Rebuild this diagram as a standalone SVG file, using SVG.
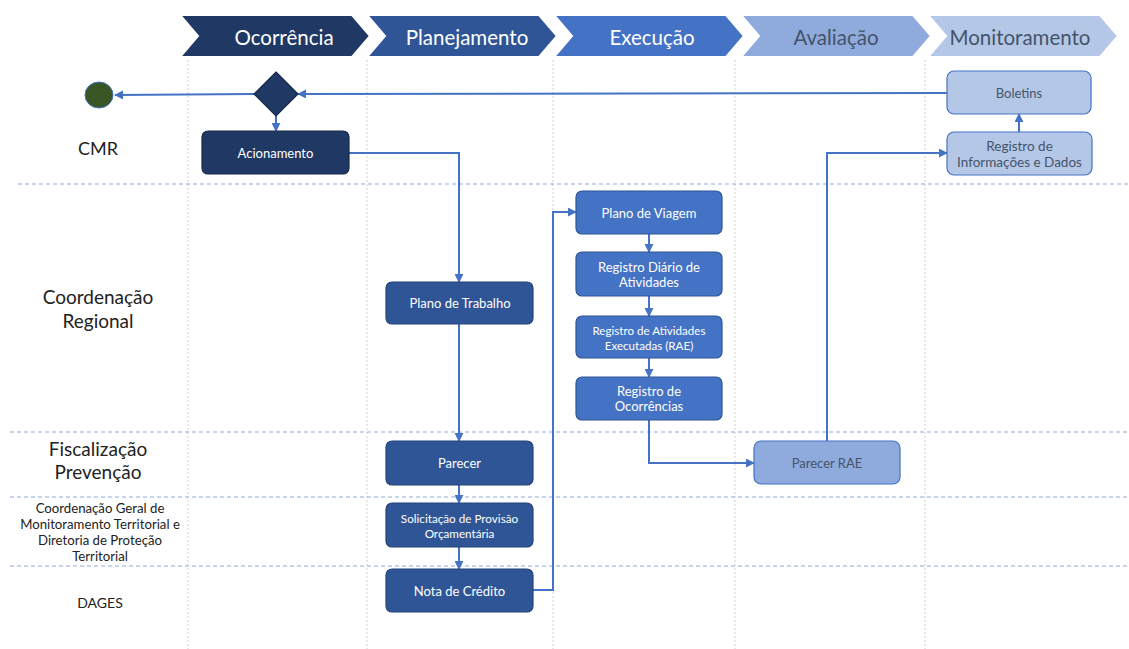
<svg xmlns="http://www.w3.org/2000/svg" width="1129" height="649" viewBox="0 0 1129 649">
  <style>
    .phase { stroke: #ffffff; stroke-width: 2; }
    .ph-t { font-family: Lato, "Open Sans", sans-serif; font-size: 20.5px; text-anchor: middle; dominant-baseline: central; }
    .lane { font-family: Lato, "Open Sans", sans-serif; font-size: 19px; fill: #222; text-anchor: middle; }
    .lane-s { font-family: Lato, "Open Sans", sans-serif; font-size: 13.2px; fill: #222; text-anchor: middle; }
    .vgrid { stroke: #d0d0d0; stroke-width: 1; stroke-dasharray: 2 2; }
    .hgrid { stroke: #8faadc; stroke-width: 1; stroke-dasharray: 4 3; }
    .box-d { fill: #1f3864; stroke: #17294a; stroke-width: 1.2; }
    .box-m { fill: #2f5597; stroke: #244377; stroke-width: 1.2; }
    .box-b { fill: #4472c4; stroke: #2f5597; stroke-width: 1.2; }
    .box-l { fill: #8faadc; stroke: #4472c4; stroke-width: 1.2; }
    .box-p { fill: #b4c7e7; stroke: #4472c4; stroke-width: 1.2; }
    .nt { font-family: Lato, "Open Sans", sans-serif; font-size: 13px; fill: #ffffff; text-anchor: middle; dominant-baseline: central; }
    .nt-g { font-family: Lato, "Open Sans", sans-serif; font-size: 13px; fill: #44546a; text-anchor: middle; dominant-baseline: central; }
    .conn { fill: none; stroke: #4472c4; stroke-width: 2; marker-end: url(#arr); }
  </style>
  <defs>
    <marker id="arr" viewBox="0 0 10 10" refX="9" refY="5" markerWidth="4.5" markerHeight="4.5" orient="auto" markerUnits="strokeWidth">
      <path d="M0,0 L10,5 L0,10 z" fill="#4472c4"/>
    </marker>
  </defs>

  <rect width="1129" height="649" fill="#ffffff"/>

  <!-- phase chevrons -->
  <g id="phases">
    <polygon class="phase" fill="#1f3864" points="180,15 352,15 370,36 352,57 180,57 198,36"/>
    <polygon class="phase" fill="#2f5597" points="367,15 539,15 557,36 539,57 367,57 385,36"/>
    <polygon class="phase" fill="#4472c4" points="554,15 726,15 744,36 726,57 554,57 572,36"/>
    <polygon class="phase" fill="#8faadc" points="741,15 913,15 931,36 913,57 741,57 759,36"/>
    <polygon class="phase" fill="#b4c7e7" points="928,15 1100,15 1118,36 1100,57 928,57 946,36"/>
    <text class="ph-t" x="284" y="37" fill="#ffffff">Ocorrência</text>
    <text class="ph-t" x="467" y="37" fill="#ffffff">Planejamento</text>
    <text class="ph-t" x="652" y="37" fill="#ffffff">Execução</text>
    <text class="ph-t" x="836" y="37" fill="#44546a">Avaliação</text>
    <text class="ph-t" x="1020" y="37" fill="#44546a">Monitoramento</text>
  </g>

  <!-- swimlane grid -->
  <g id="grid">
    <line class="vgrid" x1="188" y1="60" x2="188" y2="649"/>
    <line class="vgrid" x1="367" y1="60" x2="367" y2="649"/>
    <line class="vgrid" x1="553" y1="60" x2="553" y2="649"/>
    <line class="vgrid" x1="735" y1="60" x2="735" y2="649"/>
    <line class="vgrid" x1="925" y1="60" x2="925" y2="649"/>
    <line class="hgrid" x1="18" y1="184" x2="1129" y2="184"/>
    <line class="hgrid" x1="10" y1="432" x2="1129" y2="432"/>
    <line class="hgrid" x1="10" y1="497" x2="1129" y2="497"/>
    <line class="hgrid" x1="10" y1="566" x2="1129" y2="566"/>
  </g>

  <!-- lane labels -->
  <g id="lanes">
    <text class="lane" x="98" y="155" style="font-size:18px">CMR</text>
    <text class="lane" x="98" y="304">Coordenação</text>
    <text class="lane" x="98" y="328">Regional</text>
    <text class="lane" x="98" y="456">Fiscalização</text>
    <text class="lane" x="98" y="479">Prevenção</text>
    <text class="lane-s" x="100" y="513">Coordenação Geral de</text>
    <text class="lane-s" x="100" y="529">Monitoramento Territorial e</text>
    <text class="lane-s" x="100" y="545">Diretoria de Proteção</text>
    <text class="lane-s" x="100" y="561">Territorial</text>
    <text class="lane-s" x="100" y="608" style="font-size:14px">DAGES</text>
  </g>

  <!-- connectors -->
  <g id="connectors">
    <path class="conn" d="M254,94 L115,95"/>
    <path class="conn" d="M947,93 L298,94"/>
    <path class="conn" d="M276,116 L276,131"/>
    <path class="conn" d="M349,153 L459,153 L459,282"/>
    <path class="conn" d="M459,324 L459,441"/>
    <path class="conn" d="M459,485 L459,503"/>
    <path class="conn" d="M459,547 L459,569"/>
    <path class="conn" d="M533,590 L553,590 L553,212 L576,212"/>
    <path class="conn" d="M649,234 L649,252"/>
    <path class="conn" d="M649,296 L649,316"/>
    <path class="conn" d="M649,358 L649,377"/>
    <path class="conn" d="M649,420 L649,463 L754,463"/>
    <path class="conn" d="M827,441 L827,153 L947,153"/>
    <path class="conn" d="M1019,132 L1019,114"/>
  </g>

  <!-- nodes -->
  <g id="end">
    <ellipse cx="99" cy="95" rx="14" ry="13" fill="#375623" stroke="#4472c4" stroke-width="1"/>
  </g>
  <g id="decision">
    <polygon class="box-d" points="276,72 298,94 276,116 254,94"/>
  </g>
  <g id="acionamento">
    <rect class="box-d" x="202" y="131" width="147" height="43" rx="6"/>
    <text class="nt" x="275.5" y="153">Acionamento</text>
  </g>
  <g id="plano-trabalho">
    <rect class="box-m" x="386" y="282" width="147" height="42" rx="6"/>
    <text class="nt" x="460" y="303">Plano de Trabalho</text>
  </g>
  <g id="parecer">
    <rect class="box-m" x="386" y="441" width="147" height="44" rx="6"/>
    <text class="nt" x="459.5" y="463">Parecer</text>
  </g>
  <g id="solicitacao">
    <rect class="box-m" x="386" y="503" width="147" height="44" rx="6"/>
    <text class="nt" x="459.5" y="518" style="font-size:11.7px">Solicitação de Provisão</text>
    <text class="nt" x="459.5" y="533" style="font-size:11.7px">Orçamentária</text>
  </g>
  <g id="nota-credito">
    <rect class="box-m" x="386" y="569" width="147" height="43" rx="6"/>
    <text class="nt" x="459.5" y="590.5">Nota de Crédito</text>
  </g>
  <g id="plano-viagem">
    <rect class="box-b" x="576" y="191" width="146" height="43" rx="6"/>
    <text class="nt" x="649" y="212.5">Plano de Viagem</text>
  </g>
  <g id="registro-diario">
    <rect class="box-b" x="576" y="252" width="146" height="44" rx="6"/>
    <text class="nt" x="649" y="267">Registro Diário de</text>
    <text class="nt" x="649" y="282">Atividades</text>
  </g>
  <g id="registro-rae">
    <rect class="box-b" x="576" y="316" width="146" height="42" rx="6"/>
    <text class="nt" x="649" y="330" style="font-size:11.6px">Registro de Atividades</text>
    <text class="nt" x="649" y="345" style="font-size:11.6px">Executadas (RAE)</text>
  </g>
  <g id="registro-ocorrencias">
    <rect class="box-b" x="576" y="377" width="146" height="43" rx="6"/>
    <text class="nt" x="649" y="391">Registro de</text>
    <text class="nt" x="649" y="406">Ocorrências</text>
  </g>
  <g id="parecer-rae">
    <rect class="box-l" x="754" y="441" width="146" height="43" rx="7"/>
    <text class="nt-g" x="827" y="463">Parecer RAE</text>
  </g>
  <g id="boletins">
    <rect class="box-p" x="947" y="71" width="144" height="43" rx="7"/>
    <text class="nt-g" x="1019" y="93">Boletins</text>
  </g>
  <g id="registro-info">
    <rect class="box-p" x="947" y="132" width="145" height="43" rx="7"/>
    <text class="nt-g" x="1019.5" y="146" style="font-size:13.5px">Registro de</text>
    <text class="nt-g" x="1019.5" y="162" style="font-size:13.5px">Informações e Dados</text>
  </g>
</svg>
